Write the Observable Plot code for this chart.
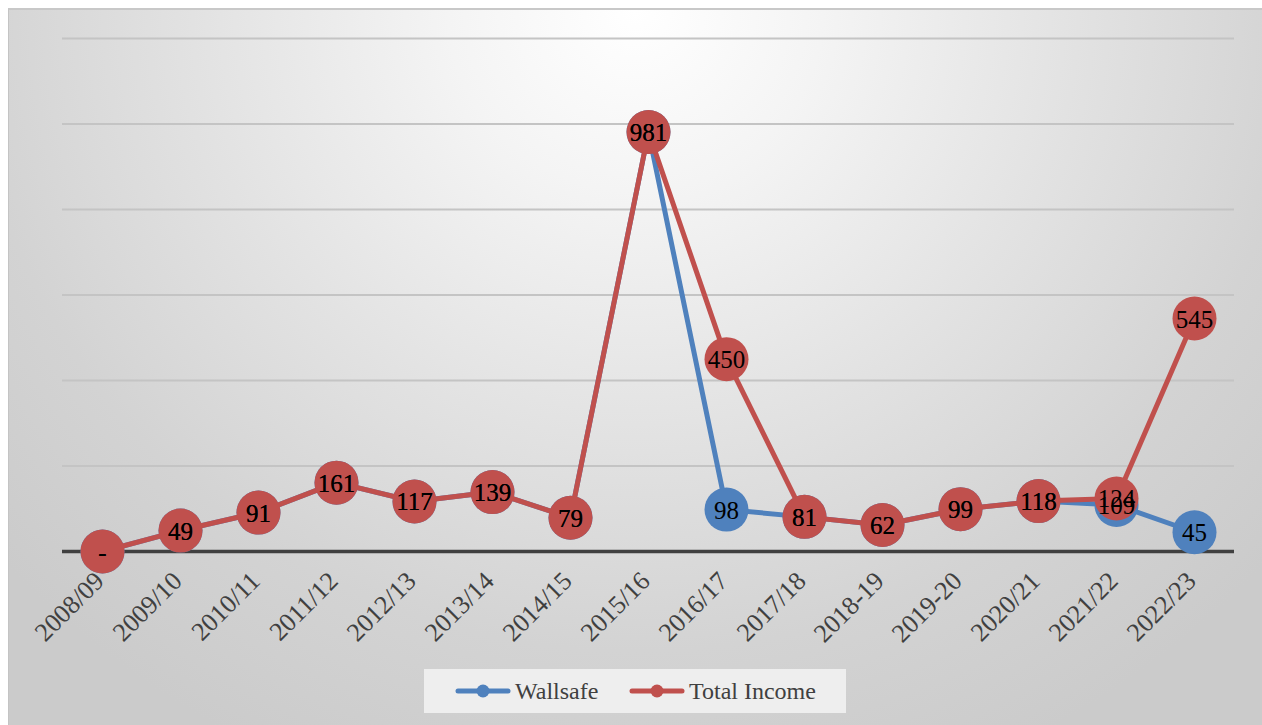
<!DOCTYPE html>
<html>
<head>
<meta charset="utf-8">
<script src="https://cdn.jsdelivr.net/npm/d3@7"></script>
<script src="https://cdn.jsdelivr.net/npm/@observablehq/plot@0.6"></script>
<style>
  html, body { margin: 0; padding: 0; background: #ffffff; }
  #page { position: relative; width: 1262px; height: 725px; overflow: hidden; }
  #bg {
    position: absolute; left: 8px; top: 8px; width: 1254px; height: 717px;
    border-top: 2px solid #c8c8c8; border-left: 1px solid #c4c4c4; box-sizing: border-box;
    background: radial-gradient(ellipse 68% 115% at 50% 0%, #ffffff 0%, #f4f4f4 22%, #e2e2e2 52%, #d3d3d3 78%, #cbcbcb 100%);
  }
  #chart { position: absolute; left: 0; top: 0; }
  #chart svg, #chart svg text { font-family: "Liberation Serif", serif !important; }
  #legend {
    position: absolute; left: 424px; top: 669px; width: 422px; height: 44px;
    background: #eeeeee; font-family: "Liberation Serif", serif; font-size: 24px; color: #404040;
  }
  .item { position: absolute; top: 0; height: 44px; display: flex; align-items: center; }
  .item svg { margin-right: 4px; }
</style>
</head>
<body>
<div id="page">
  <div id="bg"></div>
  <div id="chart"></div>
  <div id="legend">
    <div class="item" style="left:31px"><svg width="56" height="14"><line x1="3" x2="53" y1="7" y2="7" stroke="#4f81bd" stroke-width="5" stroke-linecap="round"/><circle cx="28" cy="7" r="6.5" fill="#4f81bd"/></svg>Wallsafe</div>
    <div class="item" style="left:205px"><svg width="56" height="14"><line x1="3" x2="53" y1="7" y2="7" stroke="#c0504d" stroke-width="5" stroke-linecap="round"/><circle cx="28" cy="7" r="6.5" fill="#c0504d"/></svg>Total Income</div>
  </div>
</div>
<script>
const years = ["2008/09","2009/10","2010/11","2011/12","2012/13","2013/14","2014/15","2015/16","2016/17","2017/18","2018-19","2019-20","2020/21","2021/22","2022/23"];
const wallsafe = [0, 49, 91, 161, 117, 139, 79, 981, 98, 81, 62, 99, 118, 109, 45];
const totalIncome = [0, 49, 91, 161, 117, 139, 79, 981, 450, 81, 62, 99, 118, 124, 545];
const gridValues = [200, 400, 600, 800, 1000, 1200];

const blue = "#4f81bd", red = "#c0504d";
const ws = years.map((y, i) => ({year: y, v: wallsafe[i]}));
const ti = years.map((y, i) => ({year: y, v: totalIncome[i]}));
const fmt = v => v === 0 ? "-" : String(v);
const serif = "Liberation Serif";

const chart = Plot.plot({
  width: 1262,
  height: 660,
  marginLeft: 62,
  marginRight: 28,
  marginTop: 38,
  marginBottom: 109,
  style: {background: "transparent", overflow: "visible", fontFamily: serif},
  x: {type: "point", domain: years, padding: 0.5, axis: null},
  y: {domain: [0, 1200], axis: null},
  marks: [
    Plot.ruleY(gridValues, {stroke: "#c4c4c4", strokeWidth: 2}),
    Plot.ruleY([0], {stroke: "#404040", strokeWidth: 3.5}),
    Plot.line(ws, {x: "year", y: "v", stroke: blue, strokeWidth: 5}),
    Plot.dot(ws, {x: "year", y: "v", r: 22, fill: blue}),
    Plot.line(ti, {x: "year", y: "v", stroke: red, strokeWidth: 5}),
    Plot.dot(ti, {x: "year", y: "v", r: 22, fill: red}),
    Plot.text(ws, {x: "year", y: "v", text: d => fmt(d.v), fill: "#000", fontSize: 25, fontFamily: serif, dy: 1}),
    Plot.text(ti, {x: "year", y: "v", text: d => fmt(d.v), fill: "#000", fontSize: 25, fontFamily: serif, dy: 1}),
    Plot.text(years, {x: d => d, frameAnchor: "bottom", text: d => d, rotate: -45, textAnchor: "end", fill: "#404040", fontSize: 26, fontFamily: serif, dx: 3, dy: 31})
  ]
});
document.getElementById("chart").appendChild(chart);
</script>
</body>
</html>
